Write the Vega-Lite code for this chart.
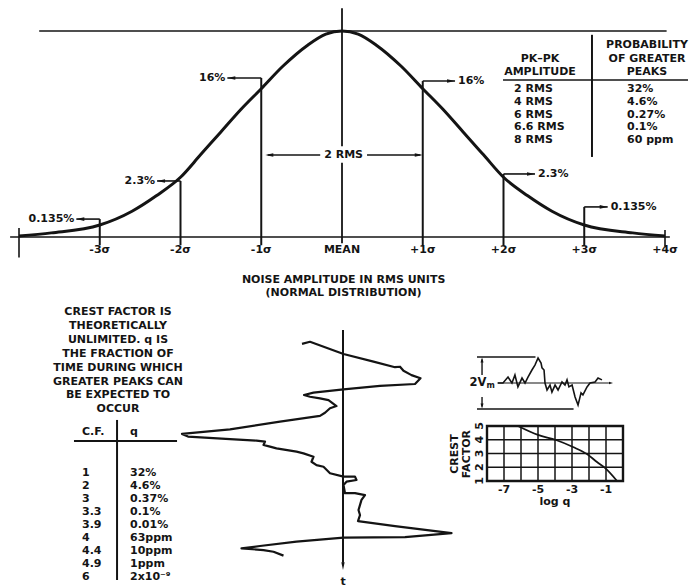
{
  "$schema": "https://vega.github.io/schema/vega-lite/v6.json",
  "width": 691,
  "height": 587,
  "autosize": "none",
  "padding": 0,
  "background": "white",
  "config": {
    "view": {"stroke": null},
    "text": {"font": "DejaVu Sans", "fontWeight": "bold", "fontSize": 11, "color": "#141414"},
    "rule": {"color": "#141414"},
    "line": {"color": "#141414"},
    "point": {"color": "#141414", "filled": true, "opacity": 1}
  },
  "data": {"values": [{}]},
  "datasets": {
    "bell": [
      {"sigma": -4, "amp": 0.005}, {"sigma": -3.6, "amp": 0.02}, {"sigma": -3, "amp": 0.058},
      {"sigma": -2.6, "amp": 0.125}, {"sigma": -2.3, "amp": 0.2}, {"sigma": -2, "amp": 0.29},
      {"sigma": -1.75, "amp": 0.4}, {"sigma": -1.5, "amp": 0.51}, {"sigma": -1.25, "amp": 0.62},
      {"sigma": -1, "amp": 0.72}, {"sigma": -0.73, "amp": 0.83}, {"sigma": -0.43, "amp": 0.93},
      {"sigma": -0.2, "amp": 0.985}, {"sigma": 0, "amp": 1},
      {"sigma": 0.2, "amp": 0.985}, {"sigma": 0.43, "amp": 0.93}, {"sigma": 0.73, "amp": 0.83},
      {"sigma": 1, "amp": 0.72}, {"sigma": 1.25, "amp": 0.62}, {"sigma": 1.5, "amp": 0.51},
      {"sigma": 1.75, "amp": 0.4}, {"sigma": 2, "amp": 0.29}, {"sigma": 2.3, "amp": 0.2},
      {"sigma": 2.6, "amp": 0.125}, {"sigma": 3, "amp": 0.058}, {"sigma": 3.6, "amp": 0.02},
      {"sigma": 4, "amp": 0.005}
    ],
    "tails": [
      {"sigma": -3, "label": "0.135%", "level": 0.087, "tip": -3.29},
      {"sigma": -2, "label": "2.3%", "level": 0.272, "tip": -2.29},
      {"sigma": -1, "label": "16%", "level": 0.772, "tip": -1.42},
      {"sigma": 1, "label": "16%", "level": 0.757, "tip": 1.4},
      {"sigma": 2, "label": "2.3%", "level": 0.306, "tip": 2.39},
      {"sigma": 3, "label": "0.135%", "level": 0.146, "tip": 3.29}
    ],
    "ticks": [
      {"sigma": -3, "label": "-3σ"}, {"sigma": -2, "label": "-2σ"}, {"sigma": -1, "label": "-1σ"},
      {"sigma": 0, "label": "MEAN"}, {"sigma": 1, "label": "+1σ"}, {"sigma": 2, "label": "+2σ"},
      {"sigma": 3, "label": "+3σ"}, {"sigma": 4, "label": "+4σ"}
    ],
    "pkpk": [
      {"row": 1, "amplitude": "2 RMS", "probability": "32%"},
      {"row": 2, "amplitude": "4 RMS", "probability": "4.6%"},
      {"row": 3, "amplitude": "6 RMS", "probability": "0.27%"},
      {"row": 4, "amplitude": "6.6 RMS", "probability": "0.1%"},
      {"row": 5, "amplitude": "8 RMS", "probability": "60 ppm"}
    ],
    "crest": [
      {"row": 1, "cf": "1", "q": "32%"},
      {"row": 2, "cf": "2", "q": "4.6%"},
      {"row": 3, "cf": "3", "q": "0.37%"},
      {"row": 4, "cf": "3.3", "q": "0.1%"},
      {"row": 5, "cf": "3.9", "q": "0.01%"},
      {"row": 6, "cf": "4", "q": "63ppm"},
      {"row": 7, "cf": "4.4", "q": "10ppm"},
      {"row": 8, "cf": "4.9", "q": "1ppm"},
      {"row": 9, "cf": "6", "q": "2x10⁻⁹"}
    ],
    "noise": [
      {"n": 1, "v": -0.82, "t": 5.8}, {"n": 2, "v": -0.66, "t": 4.9}, {"n": 3, "v": 0.01, "t": 10.0},
      {"n": 4, "v": 0.61, "t": 13.2}, {"n": 5, "v": 1.04, "t": 15.5}, {"n": 6, "v": 1.14, "t": 15.3},
      {"n": 7, "v": 1.21, "t": 17.0}, {"n": 8, "v": 1.37, "t": 18.8}, {"n": 9, "v": 1.55, "t": 20.1},
      {"n": 10, "v": 1.44, "t": 22.5}, {"n": 11, "v": 0.74, "t": 23.3}, {"n": 12, "v": 0.01, "t": 24.7},
      {"n": 13, "v": -0.59, "t": 26.1}, {"n": 14, "v": -0.78, "t": 27.1}, {"n": 15, "v": -0.66, "t": 27.8},
      {"n": 16, "v": -0.46, "t": 28.5}, {"n": 17, "v": -0.29, "t": 29.2}, {"n": 18, "v": -0.13, "t": 31.7},
      {"n": 19, "v": -0.26, "t": 32.6}, {"n": 20, "v": -0.36, "t": 34.5}, {"n": 21, "v": -0.46, "t": 35.8},
      {"n": 22, "v": -1.26, "t": 38.2}, {"n": 23, "v": -2.26, "t": 41.4}, {"n": 24, "v": -3.22, "t": 43.3},
      {"n": 25, "v": -3.1, "t": 44.4}, {"n": 26, "v": -2.26, "t": 45.5}, {"n": 27, "v": -1.73, "t": 46.1},
      {"n": 28, "v": -1.56, "t": 46.5}, {"n": 29, "v": -1.59, "t": 47.9}, {"n": 30, "v": -1.46, "t": 48.6},
      {"n": 31, "v": -1.33, "t": 49.3}, {"n": 32, "v": -0.93, "t": 50.7}, {"n": 33, "v": -0.79, "t": 51.4},
      {"n": 34, "v": -0.59, "t": 52.8}, {"n": 35, "v": -0.63, "t": 54.9}, {"n": 36, "v": -0.53, "t": 56.3},
      {"n": 37, "v": -0.39, "t": 57.0}, {"n": 38, "v": -0.26, "t": 59.7}, {"n": 39, "v": 0.01, "t": 61.1},
      {"n": 40, "v": 0.24, "t": 61.1}, {"n": 41, "v": 0.27, "t": 62.5}, {"n": 42, "v": 0.07, "t": 63.2},
      {"n": 43, "v": 0.01, "t": 64.6}, {"n": 44, "v": 0.04, "t": 68.0}, {"n": 45, "v": 0.24, "t": 68.0},
      {"n": 46, "v": 0.44, "t": 68.8}, {"n": 47, "v": 0.37, "t": 70.8}, {"n": 48, "v": 0.31, "t": 75.0},
      {"n": 49, "v": 0.34, "t": 77.1}, {"n": 50, "v": 0.3, "t": 79.6}, {"n": 51, "v": 1.04, "t": 81.7},
      {"n": 52, "v": 2.17, "t": 84.6}, {"n": 53, "v": 1.24, "t": 86.3}, {"n": 54, "v": 0.01, "t": 86.5},
      {"n": 55, "v": -0.93, "t": 88.2}, {"n": 56, "v": -1.66, "t": 90.0}, {"n": 57, "v": -2.03, "t": 91.0},
      {"n": 58, "v": -1.59, "t": 91.7}, {"n": 59, "v": -1.39, "t": 92.4}, {"n": 60, "v": -1.19, "t": 94.0}
    ],
    "wave": [
      {"time": 15.4, "volts": 0}, {"time": 19.1, "volts": 0}, {"time": 22.8, "volts": 0.23},
      {"time": 25.7, "volts": 0}, {"time": 27.9, "volts": 0.31}, {"time": 30.1, "volts": -0.15},
      {"time": 33.1, "volts": 0.19}, {"time": 35.3, "volts": 0}, {"time": 37.5, "volts": 0.23},
      {"time": 40.4, "volts": 0.5}, {"time": 42.6, "volts": 0.69}, {"time": 44.9, "volts": 0.96},
      {"time": 47.1, "volts": 0.77}, {"time": 47.8, "volts": 0.58}, {"time": 49.3, "volts": 0.5},
      {"time": 50.0, "volts": 0}, {"time": 51.5, "volts": -0.27}, {"time": 53.7, "volts": -0.08},
      {"time": 55.1, "volts": -0.35}, {"time": 57.4, "volts": -0.08}, {"time": 59.6, "volts": -0.27},
      {"time": 62.5, "volts": 0.04}, {"time": 64.7, "volts": -0.08}, {"time": 66.2, "volts": 0.12},
      {"time": 67.6, "volts": -0.15}, {"time": 69.9, "volts": -0.08}, {"time": 72.1, "volts": -0.54},
      {"time": 74.3, "volts": -0.85}, {"time": 76.5, "volts": -0.38}, {"time": 77.9, "volts": -0.46},
      {"time": 80.9, "volts": -0.15}, {"time": 83.1, "volts": 0}, {"time": 86.8, "volts": 0.04},
      {"time": 89.0, "volts": 0.19}, {"time": 91.9, "volts": 0.12}
    ],
    "cfcurve": [
      {"logq": -6.18, "cf": 5.0}, {"logq": -5.0, "cf": 4.35}, {"logq": -3.94, "cf": 3.98},
      {"logq": -2.94, "cf": 3.47}, {"logq": -2.12, "cf": 2.96}, {"logq": -1.53, "cf": 2.38},
      {"logq": -1.06, "cf": 1.95}, {"logq": -0.35, "cf": 1.0}
    ],
    "gridq": [{"logq": -8}, {"logq": -7}, {"logq": -6}, {"logq": -5}, {"logq": -4}, {"logq": -3}, {"logq": -2}, {"logq": -1}, {"logq": 0}],
    "gridcf": [{"cf": 1}, {"cf": 2}, {"cf": 3}, {"cf": 4}, {"cf": 5}],
    "qlabels": [{"logq": -7, "label": "-7"}, {"logq": -5, "label": "-5"}, {"logq": -3, "label": "-3"}, {"logq": -1, "label": "-1"}],
    "cflabels": [{"cf": 1, "label": "1"}, {"cf": 2, "label": "2"}, {"cf": 3, "label": "3"}, {"cf": 4, "label": "4"}, {"cf": 5, "label": "5"}]
  },
  "layer": [
    {
      "layer": [
        {
          "data": {"name": "bell"},
          "mark": {"type": "line", "interpolate": "monotone", "strokeWidth": 3},
          "encoding": {
            "x": {"field": "sigma", "type": "quantitative", "scale": {"domain": [-4, 4], "range": [19, 665], "nice": false, "zero": false}, "axis": null},
            "y": {"field": "amp", "type": "quantitative", "scale": {"domain": [0, 1], "range": [237, 31], "nice": false, "zero": false}, "axis": null}
          }
        },
        {
          "mark": {"type": "rule", "strokeWidth": 1.6},
          "encoding": {
            "x": {"datum": -3.75, "type": "quantitative", "scale": {"domain": [-4, 4], "range": [19, 665], "nice": false, "zero": false}, "axis": null},
            "x2": {"datum": 4.02},
            "y": {"datum": 1, "type": "quantitative", "scale": {"domain": [0, 1], "range": [237, 31], "nice": false, "zero": false}, "axis": null}
          }
        },
        {
          "mark": {"type": "rule", "strokeWidth": 1.6},
          "encoding": {
            "x": {"datum": -4.11, "type": "quantitative", "scale": {"domain": [-4, 4], "range": [19, 665], "nice": false, "zero": false}, "axis": null},
            "x2": {"datum": 4.06},
            "y": {"datum": 0, "type": "quantitative", "scale": {"domain": [0, 1], "range": [237, 31], "nice": false, "zero": false}, "axis": null}
          }
        },
        {
          "mark": {"type": "rule", "strokeWidth": 1.6},
          "encoding": {
            "x": {"datum": -4, "type": "quantitative", "scale": {"domain": [-4, 4], "range": [19, 665], "nice": false, "zero": false}, "axis": null},
            "y": {"datum": 0.044, "type": "quantitative", "scale": {"domain": [0, 1], "range": [237, 31], "nice": false, "zero": false}, "axis": null},
            "y2": {"datum": -0.1}
          }
        },
        {
          "mark": {"type": "rule", "strokeWidth": 1.6},
          "encoding": {
            "x": {"datum": 4, "type": "quantitative", "scale": {"domain": [-4, 4], "range": [19, 665], "nice": false, "zero": false}, "axis": null},
            "y": {"datum": 0.034, "type": "quantitative", "scale": {"domain": [0, 1], "range": [237, 31], "nice": false, "zero": false}, "axis": null},
            "y2": {"datum": -0.045}
          }
        },
        {
          "mark": {"type": "rule", "strokeWidth": 1.8},
          "encoding": {
            "x": {"datum": 0, "type": "quantitative", "scale": {"domain": [-4, 4], "range": [19, 665], "nice": false, "zero": false}, "axis": null},
            "y": {"datum": -0.03, "type": "quantitative", "scale": {"domain": [0, 1], "range": [237, 31], "nice": false, "zero": false}, "axis": null},
            "y2": {"datum": 0.36}
          }
        },
        {
          "mark": {"type": "rule", "strokeWidth": 1.8},
          "encoding": {
            "x": {"datum": 0, "type": "quantitative", "scale": {"domain": [-4, 4], "range": [19, 665], "nice": false, "zero": false}, "axis": null},
            "y": {"datum": 0.44, "type": "quantitative", "scale": {"domain": [0, 1], "range": [237, 31], "nice": false, "zero": false}, "axis": null},
            "y2": {"datum": 1.11}
          }
        },
        {
          "data": {"name": "tails"},
          "mark": {"type": "rule", "strokeWidth": 2},
          "encoding": {
            "x": {"field": "sigma", "type": "quantitative", "scale": {"domain": [-4, 4], "range": [19, 665], "nice": false, "zero": false}, "axis": null},
            "y": {"field": "level", "type": "quantitative", "scale": {"domain": [0, 1], "range": [237, 31], "nice": false, "zero": false}, "axis": null},
            "y2": {"datum": -0.04}
          }
        },
        {
          "data": {"name": "tails"},
          "mark": {"type": "rule", "strokeWidth": 1.6},
          "encoding": {
            "x": {"field": "sigma", "type": "quantitative", "scale": {"domain": [-4, 4], "range": [19, 665], "nice": false, "zero": false}, "axis": null},
            "x2": {"field": "tip"},
            "y": {"field": "level", "type": "quantitative", "scale": {"domain": [0, 1], "range": [237, 31], "nice": false, "zero": false}, "axis": null}
          }
        },
        {
          "data": {"name": "tails"},
          "transform": [{"filter": "datum.sigma < 0"}],
          "layer": [
            {
              "mark": {"type": "point", "shape": "M0,0L2,-0.45L2,0.45Z", "size": 64, "strokeWidth": 0},
              "encoding": {
                "x": {"field": "tip", "type": "quantitative", "scale": {"domain": [-4, 4], "range": [19, 665], "nice": false, "zero": false}, "axis": null},
                "y": {"field": "level", "type": "quantitative", "scale": {"domain": [0, 1], "range": [237, 31], "nice": false, "zero": false}, "axis": null}
              }
            },
            {
              "mark": {"type": "text", "align": "right", "baseline": "middle", "dx": -2},
              "encoding": {
                "x": {"field": "tip", "type": "quantitative", "scale": {"domain": [-4, 4], "range": [19, 665], "nice": false, "zero": false}, "axis": null},
                "y": {"field": "level", "type": "quantitative", "scale": {"domain": [0, 1], "range": [237, 31], "nice": false, "zero": false}, "axis": null},
                "text": {"field": "label"}
              }
            }
          ]
        },
        {
          "data": {"name": "tails"},
          "transform": [{"filter": "datum.sigma > 0"}],
          "layer": [
            {
              "mark": {"type": "point", "shape": "M0,0L-2,-0.45L-2,0.45Z", "size": 64, "strokeWidth": 0},
              "encoding": {
                "x": {"field": "tip", "type": "quantitative", "scale": {"domain": [-4, 4], "range": [19, 665], "nice": false, "zero": false}, "axis": null},
                "y": {"field": "level", "type": "quantitative", "scale": {"domain": [0, 1], "range": [237, 31], "nice": false, "zero": false}, "axis": null}
              }
            },
            {
              "mark": {"type": "text", "align": "left", "baseline": "middle", "dx": 3},
              "encoding": {
                "x": {"field": "tip", "type": "quantitative", "scale": {"domain": [-4, 4], "range": [19, 665], "nice": false, "zero": false}, "axis": null},
                "y": {"field": "level", "type": "quantitative", "scale": {"domain": [0, 1], "range": [237, 31], "nice": false, "zero": false}, "axis": null},
                "text": {"field": "label"}
              }
            }
          ]
        },
        {
          "mark": {"type": "rule", "strokeWidth": 1.6},
          "encoding": {
            "x": {"datum": -0.27, "type": "quantitative", "scale": {"domain": [-4, 4], "range": [19, 665], "nice": false, "zero": false}, "axis": null},
            "x2": {"datum": -0.92},
            "y": {"datum": 0.398, "type": "quantitative", "scale": {"domain": [0, 1], "range": [237, 31], "nice": false, "zero": false}, "axis": null}
          }
        },
        {
          "mark": {"type": "point", "shape": "M0,0L2,-0.45L2,0.45Z", "size": 64, "strokeWidth": 0},
          "encoding": {
            "x": {"datum": -0.95, "type": "quantitative", "scale": {"domain": [-4, 4], "range": [19, 665], "nice": false, "zero": false}, "axis": null},
            "y": {"datum": 0.398, "type": "quantitative", "scale": {"domain": [0, 1], "range": [237, 31], "nice": false, "zero": false}, "axis": null}
          }
        },
        {
          "mark": {"type": "rule", "strokeWidth": 1.6},
          "encoding": {
            "x": {"datum": 0.31, "type": "quantitative", "scale": {"domain": [-4, 4], "range": [19, 665], "nice": false, "zero": false}, "axis": null},
            "x2": {"datum": 0.97},
            "y": {"datum": 0.398, "type": "quantitative", "scale": {"domain": [0, 1], "range": [237, 31], "nice": false, "zero": false}, "axis": null}
          }
        },
        {
          "mark": {"type": "point", "shape": "M0,0L-2,-0.45L-2,0.45Z", "size": 64, "strokeWidth": 0},
          "encoding": {
            "x": {"datum": 1.0, "type": "quantitative", "scale": {"domain": [-4, 4], "range": [19, 665], "nice": false, "zero": false}, "axis": null},
            "y": {"datum": 0.398, "type": "quantitative", "scale": {"domain": [0, 1], "range": [237, 31], "nice": false, "zero": false}, "axis": null}
          }
        },
        {
          "mark": {"type": "text", "align": "center", "baseline": "middle", "text": "2 RMS"},
          "encoding": {
            "x": {"datum": 0.02, "type": "quantitative", "scale": {"domain": [-4, 4], "range": [19, 665], "nice": false, "zero": false}, "axis": null},
            "y": {"datum": 0.398, "type": "quantitative", "scale": {"domain": [0, 1], "range": [237, 31], "nice": false, "zero": false}, "axis": null}
          }
        },
        {
          "data": {"name": "ticks"},
          "mark": {"type": "text", "align": "center", "baseline": "middle"},
          "encoding": {
            "x": {"field": "sigma", "type": "quantitative", "scale": {"domain": [-4, 4], "range": [19, 665], "nice": false, "zero": false}, "axis": null},
            "y": {"datum": -0.063, "type": "quantitative", "scale": {"domain": [0, 1], "range": [237, 31], "nice": false, "zero": false}, "axis": null},
            "text": {"field": "label"}
          }
        },
        {
          "mark": {"type": "text", "align": "center", "baseline": "middle", "lineBreak": "\n", "lineHeight": 13, "text": "NOISE AMPLITUDE IN RMS UNITS\n(NORMAL DISTRIBUTION)"},
          "encoding": {
            "x": {"datum": 0.02, "type": "quantitative", "scale": {"domain": [-4, 4], "range": [19, 665], "nice": false, "zero": false}, "axis": null},
            "y": {"datum": -0.209, "type": "quantitative", "scale": {"domain": [0, 1], "range": [237, 31], "nice": false, "zero": false}, "axis": null}
          }
        }
      ]
    },
    {
      "layer": [
        {
          "data": {"name": "pkpk"},
          "mark": {"type": "text", "align": "left", "baseline": "middle"},
          "encoding": {
            "x": {"datum": 0, "type": "quantitative", "scale": {"domain": [0, 1], "range": [514, 627], "nice": false, "zero": false}, "axis": null},
            "y": {"field": "row", "type": "quantitative", "scale": {"domain": [0, 5], "range": [76.25, 140], "nice": false, "zero": false}, "axis": null},
            "text": {"field": "amplitude"}
          }
        },
        {
          "data": {"name": "pkpk"},
          "mark": {"type": "text", "align": "left", "baseline": "middle"},
          "encoding": {
            "x": {"datum": 1, "type": "quantitative", "scale": {"domain": [0, 1], "range": [514, 627], "nice": false, "zero": false}, "axis": null},
            "y": {"field": "row", "type": "quantitative", "scale": {"domain": [0, 5], "range": [76.25, 140], "nice": false, "zero": false}, "axis": null},
            "text": {"field": "probability"}
          }
        },
        {
          "mark": {"type": "text", "align": "center", "baseline": "middle", "lineBreak": "\n", "lineHeight": 13.5, "text": "PK–PK\nAMPLITUDE"},
          "encoding": {
            "x": {"datum": 0.23, "type": "quantitative", "scale": {"domain": [0, 1], "range": [514, 627], "nice": false, "zero": false}, "axis": null},
            "y": {"datum": -1.39, "type": "quantitative", "scale": {"domain": [0, 5], "range": [76.25, 140], "nice": false, "zero": false}, "axis": null}
          }
        },
        {
          "mark": {"type": "text", "align": "center", "baseline": "middle", "lineBreak": "\n", "lineHeight": 13.5, "text": "PROBABILITY\nOF GREATER\nPEAKS"},
          "encoding": {
            "x": {"datum": 1.177, "type": "quantitative", "scale": {"domain": [0, 1], "range": [514, 627], "nice": false, "zero": false}, "axis": null},
            "y": {"datum": -2.45, "type": "quantitative", "scale": {"domain": [0, 5], "range": [76.25, 140], "nice": false, "zero": false}, "axis": null}
          }
        },
        {
          "mark": {"type": "rule", "strokeWidth": 2},
          "encoding": {
            "x": {"datum": 0.69, "type": "quantitative", "scale": {"domain": [0, 1], "range": [514, 627], "nice": false, "zero": false}, "axis": null},
            "y": {"datum": -3.25, "type": "quantitative", "scale": {"domain": [0, 5], "range": [76.25, 140], "nice": false, "zero": false}, "axis": null},
            "y2": {"datum": 6.33}
          }
        },
        {
          "mark": {"type": "rule", "strokeWidth": 1.4},
          "encoding": {
            "x": {"datum": -0.097, "type": "quantitative", "scale": {"domain": [0, 1], "range": [514, 627], "nice": false, "zero": false}, "axis": null},
            "x2": {"datum": 1.54},
            "y": {"datum": 0.29, "type": "quantitative", "scale": {"domain": [0, 5], "range": [76.25, 140], "nice": false, "zero": false}, "axis": null}
          }
        }
      ]
    },
    {
      "layer": [
        {
          "mark": {"type": "text", "align": "center", "baseline": "middle", "lineBreak": "\n", "lineHeight": 13.9, "text": "CREST FACTOR IS\nTHEORETICALLY\nUNLIMITED. q IS\nTHE FRACTION OF\nTIME DURING WHICH\nGREATER PEAKS CAN\nBE EXPECTED TO\nOCCUR"},
          "encoding": {
            "x": {"datum": 0.75, "type": "quantitative", "scale": {"domain": [0, 1], "range": [82, 130], "nice": false, "zero": false}, "axis": null},
            "y": {"datum": -11.38, "type": "quantitative", "scale": {"domain": [0, 9], "range": [460, 577], "nice": false, "zero": false}, "axis": null}
          }
        },
        {
          "data": {"name": "crest"},
          "mark": {"type": "text", "align": "left", "baseline": "middle"},
          "encoding": {
            "x": {"datum": 0, "type": "quantitative", "scale": {"domain": [0, 1], "range": [82, 130], "nice": false, "zero": false}, "axis": null},
            "y": {"field": "row", "type": "quantitative", "scale": {"domain": [0, 9], "range": [460, 577], "nice": false, "zero": false}, "axis": null},
            "text": {"field": "cf"}
          }
        },
        {
          "data": {"name": "crest"},
          "mark": {"type": "text", "align": "left", "baseline": "middle"},
          "encoding": {
            "x": {"datum": 1, "type": "quantitative", "scale": {"domain": [0, 1], "range": [82, 130], "nice": false, "zero": false}, "axis": null},
            "y": {"field": "row", "type": "quantitative", "scale": {"domain": [0, 9], "range": [460, 577], "nice": false, "zero": false}, "axis": null},
            "text": {"field": "q"}
          }
        },
        {
          "mark": {"type": "text", "align": "left", "baseline": "middle", "text": "C.F."},
          "encoding": {
            "x": {"datum": 0, "type": "quantitative", "scale": {"domain": [0, 1], "range": [82, 130], "nice": false, "zero": false}, "axis": null},
            "y": {"datum": -2.15, "type": "quantitative", "scale": {"domain": [0, 9], "range": [460, 577], "nice": false, "zero": false}, "axis": null}
          }
        },
        {
          "mark": {"type": "text", "align": "left", "baseline": "middle", "text": "q"},
          "encoding": {
            "x": {"datum": 1, "type": "quantitative", "scale": {"domain": [0, 1], "range": [82, 130], "nice": false, "zero": false}, "axis": null},
            "y": {"datum": -2.15, "type": "quantitative", "scale": {"domain": [0, 9], "range": [460, 577], "nice": false, "zero": false}, "axis": null}
          }
        },
        {
          "mark": {"type": "rule", "strokeWidth": 2.2},
          "encoding": {
            "x": {"datum": -0.167, "type": "quantitative", "scale": {"domain": [0, 1], "range": [82, 130], "nice": false, "zero": false}, "axis": null},
            "x2": {"datum": 1.98},
            "y": {"datum": -1.46, "type": "quantitative", "scale": {"domain": [0, 9], "range": [460, 577], "nice": false, "zero": false}, "axis": null}
          }
        },
        {
          "mark": {"type": "rule", "strokeWidth": 2},
          "encoding": {
            "x": {"datum": 0.73, "type": "quantitative", "scale": {"domain": [0, 1], "range": [82, 130], "nice": false, "zero": false}, "axis": null},
            "y": {"datum": -3.08, "type": "quantitative", "scale": {"domain": [0, 9], "range": [460, 577], "nice": false, "zero": false}, "axis": null},
            "y2": {"datum": 9.23}
          }
        }
      ]
    },
    {
      "layer": [
        {
          "data": {"name": "noise"},
          "mark": {"type": "line", "strokeWidth": 2.2, "strokeJoin": "round"},
          "encoding": {
            "x": {"field": "v", "type": "quantitative", "scale": {"domain": [-3, 3], "range": [193, 493], "nice": false, "zero": false}, "axis": null},
            "y": {"field": "t", "type": "quantitative", "scale": {"domain": [0, 100], "range": [330, 570], "nice": false, "zero": false}, "axis": null},
            "order": {"field": "n", "type": "quantitative"}
          }
        },
        {
          "mark": {"type": "rule", "strokeWidth": 2},
          "encoding": {
            "x": {"datum": 0, "type": "quantitative", "scale": {"domain": [-3, 3], "range": [193, 493], "nice": false, "zero": false}, "axis": null},
            "y": {"datum": 0, "type": "quantitative", "scale": {"domain": [0, 100], "range": [330, 570], "nice": false, "zero": false}, "axis": null},
            "y2": {"datum": 97}
          }
        },
        {
          "mark": {"type": "point", "shape": "M0,0L-0.55,-2.6L0.55,-2.6Z", "size": 36, "strokeWidth": 0},
          "encoding": {
            "x": {"datum": 0, "type": "quantitative", "scale": {"domain": [-3, 3], "range": [193, 493], "nice": false, "zero": false}, "axis": null},
            "y": {"datum": 100, "type": "quantitative", "scale": {"domain": [0, 100], "range": [330, 570], "nice": false, "zero": false}, "axis": null}
          }
        },
        {
          "mark": {"type": "text", "align": "center", "baseline": "middle", "text": "t"},
          "encoding": {
            "x": {"datum": 0, "type": "quantitative", "scale": {"domain": [-3, 3], "range": [193, 493], "nice": false, "zero": false}, "axis": null},
            "y": {"datum": 105, "type": "quantitative", "scale": {"domain": [0, 100], "range": [330, 570], "nice": false, "zero": false}, "axis": null}
          }
        }
      ]
    },
    {
      "layer": [
        {
          "mark": {"type": "rule", "strokeWidth": 1.4},
          "encoding": {
            "x": {"datum": 0, "type": "quantitative", "scale": {"domain": [0, 100], "range": [477, 613], "nice": false, "zero": false}, "axis": null},
            "x2": {"datum": 43},
            "y": {"datum": 1, "type": "quantitative", "scale": {"domain": [-1, 1], "range": [409, 357], "nice": false, "zero": false}, "axis": null}
          }
        },
        {
          "mark": {"type": "rule", "strokeWidth": 1.4},
          "encoding": {
            "x": {"datum": 0, "type": "quantitative", "scale": {"domain": [0, 100], "range": [477, 613], "nice": false, "zero": false}, "axis": null},
            "x2": {"datum": 71},
            "y": {"datum": -1, "type": "quantitative", "scale": {"domain": [-1, 1], "range": [409, 357], "nice": false, "zero": false}, "axis": null}
          }
        },
        {
          "mark": {"type": "rule", "strokeWidth": 1.2},
          "encoding": {
            "x": {"datum": 15, "type": "quantitative", "scale": {"domain": [0, 100], "range": [477, 613], "nice": false, "zero": false}, "axis": null},
            "x2": {"datum": 97},
            "y": {"datum": 0, "type": "quantitative", "scale": {"domain": [-1, 1], "range": [409, 357], "nice": false, "zero": false}, "axis": null}
          }
        },
        {
          "mark": {"type": "point", "shape": "M0,0L-2,-0.6L-2,0.6Z", "size": 16, "strokeWidth": 0},
          "encoding": {
            "x": {"datum": 100, "type": "quantitative", "scale": {"domain": [0, 100], "range": [477, 613], "nice": false, "zero": false}, "axis": null},
            "y": {"datum": 0, "type": "quantitative", "scale": {"domain": [-1, 1], "range": [409, 357], "nice": false, "zero": false}, "axis": null}
          }
        },
        {
          "data": {"name": "wave"},
          "mark": {"type": "line", "strokeWidth": 1.6},
          "encoding": {
            "x": {"field": "time", "type": "quantitative", "scale": {"domain": [0, 100], "range": [477, 613], "nice": false, "zero": false}, "axis": null},
            "y": {"field": "volts", "type": "quantitative", "scale": {"domain": [-1, 1], "range": [409, 357], "nice": false, "zero": false}, "axis": null}
          }
        },
        {
          "mark": {"type": "rule", "strokeWidth": 1.4},
          "encoding": {
            "x": {"datum": 3.7, "type": "quantitative", "scale": {"domain": [0, 100], "range": [477, 613], "nice": false, "zero": false}, "axis": null},
            "y": {"datum": 0.31, "type": "quantitative", "scale": {"domain": [-1, 1], "range": [409, 357], "nice": false, "zero": false}, "axis": null},
            "y2": {"datum": 0.9}
          }
        },
        {
          "mark": {"type": "point", "shape": "M0,0L-0.6,2L0.6,2Z", "size": 25, "strokeWidth": 0},
          "encoding": {
            "x": {"datum": 3.7, "type": "quantitative", "scale": {"domain": [0, 100], "range": [477, 613], "nice": false, "zero": false}, "axis": null},
            "y": {"datum": 0.98, "type": "quantitative", "scale": {"domain": [-1, 1], "range": [409, 357], "nice": false, "zero": false}, "axis": null}
          }
        },
        {
          "mark": {"type": "rule", "strokeWidth": 1.4},
          "encoding": {
            "x": {"datum": 3.7, "type": "quantitative", "scale": {"domain": [0, 100], "range": [477, 613], "nice": false, "zero": false}, "axis": null},
            "y": {"datum": -0.54, "type": "quantitative", "scale": {"domain": [-1, 1], "range": [409, 357], "nice": false, "zero": false}, "axis": null},
            "y2": {"datum": -0.9}
          }
        },
        {
          "mark": {"type": "point", "shape": "M0,0L-0.6,-2L0.6,-2Z", "size": 25, "strokeWidth": 0},
          "encoding": {
            "x": {"datum": 3.7, "type": "quantitative", "scale": {"domain": [0, 100], "range": [477, 613], "nice": false, "zero": false}, "axis": null},
            "y": {"datum": -0.98, "type": "quantitative", "scale": {"domain": [-1, 1], "range": [409, 357], "nice": false, "zero": false}, "axis": null}
          }
        },
        {
          "mark": {"type": "text", "align": "right", "baseline": "middle", "fontSize": 11.5, "text": "2V"},
          "encoding": {
            "x": {"datum": 7, "type": "quantitative", "scale": {"domain": [0, 100], "range": [477, 613], "nice": false, "zero": false}, "axis": null},
            "y": {"datum": 0, "type": "quantitative", "scale": {"domain": [-1, 1], "range": [409, 357], "nice": false, "zero": false}, "axis": null}
          }
        },
        {
          "mark": {"type": "text", "align": "left", "baseline": "middle", "fontSize": 8, "dy": 3, "text": "m"},
          "encoding": {
            "x": {"datum": 7, "type": "quantitative", "scale": {"domain": [0, 100], "range": [477, 613], "nice": false, "zero": false}, "axis": null},
            "y": {"datum": 0, "type": "quantitative", "scale": {"domain": [-1, 1], "range": [409, 357], "nice": false, "zero": false}, "axis": null}
          }
        }
      ]
    },
    {
      "layer": [
        {
          "data": {"name": "gridq"},
          "mark": {"type": "rule", "strokeWidth": 1.5},
          "encoding": {
            "x": {"field": "logq", "type": "quantitative", "scale": {"domain": [-8, 0], "range": [487, 623], "nice": false, "zero": false}, "axis": null},
            "y": {"datum": 1, "type": "quantitative", "scale": {"domain": [1, 5], "range": [481, 426], "nice": false, "zero": false}, "axis": null},
            "y2": {"datum": 5}
          }
        },
        {
          "data": {"name": "gridcf"},
          "mark": {"type": "rule", "strokeWidth": 1.5},
          "encoding": {
            "x": {"datum": -8, "type": "quantitative", "scale": {"domain": [-8, 0], "range": [487, 623], "nice": false, "zero": false}, "axis": null},
            "x2": {"datum": 0},
            "y": {"field": "cf", "type": "quantitative", "scale": {"domain": [1, 5], "range": [481, 426], "nice": false, "zero": false}, "axis": null}
          }
        },
        {
          "mark": {"type": "rect", "fill": null, "fillOpacity": 0, "stroke": "#141414", "strokeWidth": 2.4},
          "encoding": {
            "x": {"datum": -8, "type": "quantitative", "scale": {"domain": [-8, 0], "range": [487, 623], "nice": false, "zero": false}, "axis": null},
            "x2": {"datum": 0},
            "y": {"datum": 1, "type": "quantitative", "scale": {"domain": [1, 5], "range": [481, 426], "nice": false, "zero": false}, "axis": null},
            "y2": {"datum": 5}
          }
        },
        {
          "data": {"name": "cfcurve"},
          "mark": {"type": "line", "interpolate": "monotone", "strokeWidth": 1.8},
          "encoding": {
            "x": {"field": "logq", "type": "quantitative", "scale": {"domain": [-8, 0], "range": [487, 623], "nice": false, "zero": false}, "axis": null},
            "y": {"field": "cf", "type": "quantitative", "scale": {"domain": [1, 5], "range": [481, 426], "nice": false, "zero": false}, "axis": null}
          }
        },
        {
          "data": {"name": "qlabels"},
          "mark": {"type": "text", "align": "center", "baseline": "middle"},
          "encoding": {
            "x": {"field": "logq", "type": "quantitative", "scale": {"domain": [-8, 0], "range": [487, 623], "nice": false, "zero": false}, "axis": null},
            "y": {"datum": 0.35, "type": "quantitative", "scale": {"domain": [1, 5], "range": [481, 426], "nice": false, "zero": false}, "axis": null},
            "text": {"field": "label"}
          }
        },
        {
          "data": {"name": "cflabels"},
          "mark": {"type": "text", "align": "center", "baseline": "middle", "angle": 270},
          "encoding": {
            "x": {"datum": -8.41, "type": "quantitative", "scale": {"domain": [-8, 0], "range": [487, 623], "nice": false, "zero": false}, "axis": null},
            "y": {"field": "cf", "type": "quantitative", "scale": {"domain": [1, 5], "range": [481, 426], "nice": false, "zero": false}, "axis": null},
            "text": {"field": "label"}
          }
        },
        {
          "mark": {"type": "text", "align": "center", "baseline": "middle", "text": "log q"},
          "encoding": {
            "x": {"datum": -4, "type": "quantitative", "scale": {"domain": [-8, 0], "range": [487, 623], "nice": false, "zero": false}, "axis": null},
            "y": {"datum": -0.53, "type": "quantitative", "scale": {"domain": [1, 5], "range": [481, 426], "nice": false, "zero": false}, "axis": null}
          }
        },
        {
          "mark": {"type": "text", "align": "center", "baseline": "middle", "angle": 270, "lineBreak": "\n", "lineHeight": 12, "text": "CREST\nFACTOR"},
          "encoding": {
            "x": {"datum": -9.88, "type": "quantitative", "scale": {"domain": [-8, 0], "range": [487, 623], "nice": false, "zero": false}, "axis": null},
            "y": {"datum": 2.96, "type": "quantitative", "scale": {"domain": [1, 5], "range": [481, 426], "nice": false, "zero": false}, "axis": null}
          }
        }
      ]
    }
  ],
  "resolve": {"scale": {"x": "independent", "y": "independent"}}
}
